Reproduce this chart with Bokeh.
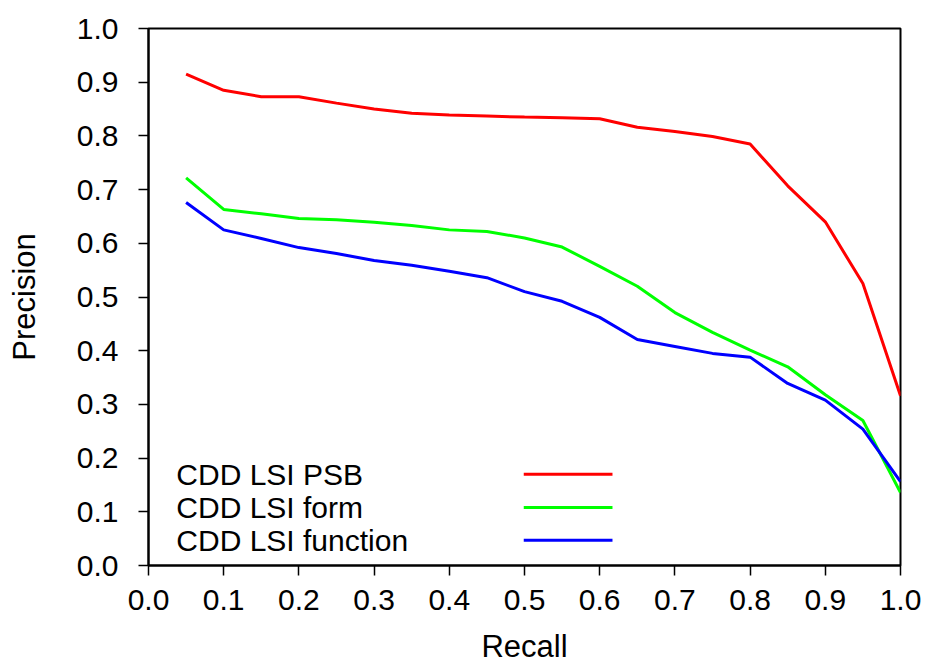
from bokeh.plotting import figure
from bokeh.models import Range1d, FixedTicker, PrintfTickFormatter
from bokeh.core.properties import value
from bokeh.embed import file_html
from bokeh.resources import INLINE

# ---- data ----
recall = [0.05, 0.10, 0.15, 0.20, 0.25, 0.30, 0.35, 0.40, 0.45, 0.50,
          0.55, 0.60, 0.65, 0.70, 0.75, 0.80, 0.85, 0.90, 0.95, 1.00]
psb = [0.915, 0.885, 0.873, 0.873, 0.861, 0.850, 0.842, 0.839, 0.837, 0.835,
       0.834, 0.832, 0.816, 0.808, 0.799, 0.785, 0.707, 0.640, 0.525, 0.316]
form = [0.722, 0.663, 0.655, 0.646, 0.644, 0.639, 0.633, 0.625, 0.622, 0.610,
        0.593, 0.557, 0.520, 0.471, 0.434, 0.401, 0.370, 0.318, 0.270, 0.136]
function = [0.676, 0.625, 0.609, 0.592, 0.581, 0.568, 0.559, 0.548, 0.536, 0.510,
            0.492, 0.462, 0.421, 0.408, 0.395, 0.388, 0.339, 0.308, 0.254, 0.156]
series_names = ["CDD LSI PSB", "CDD LSI form", "CDD LSI function"]
tick_values = [0.0, 0.1, 0.2, 0.3, 0.4, 0.5, 0.6, 0.7, 0.8, 0.9, 1.0]

# ---- style / layout ----
colors = ["#ff0000", "#00ff00", "#0000ff"]
FONT = "Liberation Sans"
legend_text_x = 0.037
legend_line_x0 = 0.499
legend_line_x1 = 0.617
legend_y = [0.170, 0.108, 0.047]

p = figure(width=925, height=666, output_backend="svg", toolbar_location=None,
           x_range=Range1d(0, 1), y_range=Range1d(0, 1),
           min_border_left=148, min_border_right=25, min_border_top=28,
           min_border_bottom=101)
p.xgrid.visible = False
p.ygrid.visible = False
p.outline_line_color = "black"
p.outline_line_width = 2
p.background_fill_color = "white"
p.border_fill_color = "white"

for ys, c in zip([psb, form, function], colors):
    p.line(recall, ys, line_color=c, line_width=3)

# legend (label on the left, line sample on the right)
p.text(x=[legend_text_x] * 3, y=legend_y, text=series_names,
       text_font=value(FONT), text_font_size="30px", text_baseline="middle",
       text_align="left", text_color="black")
p.segment(x0=[legend_line_x0] * 3, y0=legend_y, x1=[legend_line_x1] * 3,
          y1=legend_y, line_color=colors, line_width=3)

for ax in (p.xaxis, p.yaxis):
    ax.ticker = FixedTicker(ticks=tick_values)
    ax.formatter = PrintfTickFormatter(format="%.1f")
    ax.axis_line_color = "black"
    ax.axis_line_width = 2
    ax.major_tick_line_color = "black"
    ax.major_tick_line_width = 1.5
    ax.major_tick_out = 10
    ax.major_tick_in = 0
    ax.minor_tick_line_color = None
    ax.major_label_text_font = FONT
    ax.major_label_text_color = "black"
    ax.axis_label_text_font = FONT
    ax.axis_label_text_font_style = "normal"
    ax.axis_label_text_color = "black"
    ax.axis_label_text_font_size = "31px"

p.xaxis.axis_label = "Recall"
p.yaxis.axis_label = "Precision"
p.xaxis.major_label_text_font_size = "30px"
p.yaxis.major_label_text_font_size = "30px"
p.xaxis.major_label_standoff = 14
p.yaxis.major_label_standoff = 20
p.xaxis.axis_label_standoff = 16
p.yaxis.axis_label_standoff = 32

open("out.html", "w").write(file_html(p, INLINE))
